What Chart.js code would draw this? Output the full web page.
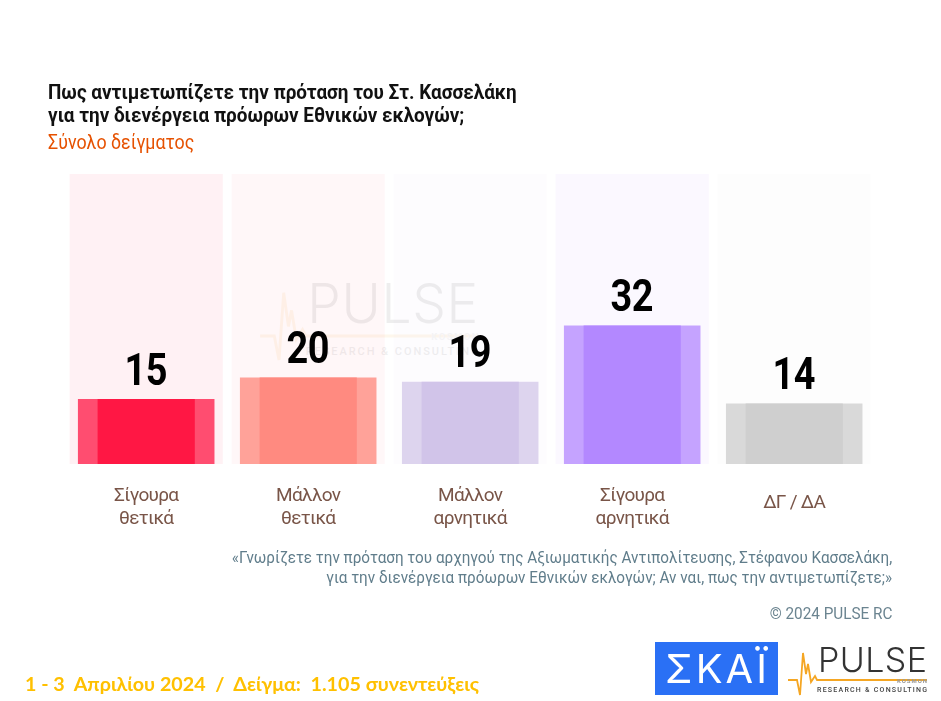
<!DOCTYPE html>
<html lang="el">
<head>
<meta charset="utf-8">
<title>Pulse RC</title>
<script src="https://cdn.jsdelivr.net/npm/chart.js@4"></script>
<style>
  html, body { margin: 0; padding: 0; background: #fff; }
  #page { position: relative; width: 941px; height: 701px; overflow: hidden; }
  #graph1 { position: absolute; left: 0; top: 0; z-index: 1; }
  .txt { position: absolute; z-index: 2; white-space: nowrap; font-family: Roboto, sans-serif; }
  #title { left: 48px; top: 81px; font-size: 21px; line-height: 23px; font-weight: bold; color: #111; transform-origin: 0 0; transform: scaleX(0.9); }
  #subtitle { left: 48px; top: 131px; font-size: 20px; line-height: 23px; color: #e65100; transform-origin: 0 0; transform: scaleX(0.89); }
  #note { right: 49px; top: 547px; text-align: right; font-size: 17px; line-height: 20px; color: #607d8b; transform-origin: 100% 0; transform: scaleX(0.897); }
  #copy { right: 49px; top: 603px; font-size: 17px; line-height: 20px; color: #6b8490; transform-origin: 100% 0; transform: scaleX(0.9); }
  #dates { left: 25px; top: 672px; font-family: Lato, sans-serif; font-size: 19.7px; line-height: 24px; font-weight: bold; color: #ffc000; white-space: pre; }
  svg { position: absolute; left: 0; top: 0; }
</style>
</head>
<body>
<div id="page">
  <svg width="941" height="701" style="z-index:0">
    <defs>
      <g id="pulseLogo">
        <polyline points="788,680 797,680 800,695 803,653 806,674 808,664 811,682 815,676 817,680 927,680" fill="none" stroke="#f5a623" stroke-width="1.8"/>
        <text x="818" y="672" font-family="Inter, sans-serif" font-weight="300" font-size="34" textLength="109" lengthAdjust="spacing" fill="#333">PULSE</text>
        <text x="897" y="682.5" font-family="Roboto, sans-serif" font-weight="bold" font-size="6" textLength="30" fill="#999">KOSMON</text>
        <text x="817" y="692" font-family="Roboto, sans-serif" font-weight="500" font-size="7" textLength="110" fill="#444">RESEARCH &amp; CONSULTING</text>
      </g>
    </defs>
    <use href="#pulseLogo" transform="translate(-977,-752) scale(1.57,1.6)" opacity="0.08"/>
  </svg>
  <canvas id="graph1" width="941" height="701"></canvas>
  <svg width="941" height="701" style="z-index:2">
    <rect x="655" y="642" width="123" height="53" fill="#2a70f5"/>
    <text x="716" y="683" text-anchor="middle" font-family="Inter, sans-serif" font-weight="400" font-size="40" textLength="102" lengthAdjust="spacing" fill="#fff">ΣΚΑΪ</text>
    <use href="#pulseLogo"/>
  </svg>
  <div class="txt" id="title">Πως αντιμετωπίζετε την πρόταση του Στ. Κασσελάκη<br>για την διενέργεια πρόωρων Εθνικών εκλογών;</div>
  <div class="txt" id="subtitle">Σύνολο δείγματος</div>
  <div class="txt" id="note">«Γνωρίζετε την πρόταση του αρχηγού της Αξιωματικής Αντιπολίτευσης, Στέφανου Κασσελάκη,<br>για την διενέργεια πρόωρων Εθνικών εκλογών; Αν ναι, πως την αντιμετωπίζετε;»</div>
  <div class="txt" id="copy">© 2024 PULSE RC</div>
  <div class="txt" id="dates">1 - 3  Απριλίου 2024  /  Δείγμα:  1.105 συνεντεύξεις</div>
</div>

<script>
const categories = [['Σίγουρα', 'θετικά'], ['Μάλλον', 'θετικά'], ['Μάλλον', 'αρνητικά'], ['Σίγουρα', 'αρνητικά'], 'ΔΓ / ΔΑ'];
const values = [15, 20, 19, 32, 14];
const trackValues = [67, 67, 67, 67, 67];

const innerColors = ['#ff1744', '#ff8a80', '#d1c4e9', '#b388ff', '#cfcfcf'];
const outerColors = ['#ff4d70', '#ffa299', '#ddd4ee', '#c5a3ff', '#d9d9d9'];
const trackColors = ['rgba(255,23,68,0.06)', 'rgba(255,100,110,0.05)', 'rgba(209,196,233,0.05)', 'rgba(179,136,255,0.06)', 'rgba(207,207,207,0.05)'];

// numbers above the bars, squeezed because no condensed font is installed
const valueLabels = {
  id: 'valueLabels',
  afterDatasetsDraw(chart) {
    const ctx = chart.ctx;
    const bars = chart.getDatasetMeta(0).data;
    ctx.save();
    ctx.font = 'bold 44px Roboto, sans-serif';
    ctx.fillStyle = '#000';
    ctx.textAlign = 'center';
    ctx.textBaseline = 'alphabetic';
    bars.forEach((bar, i) => {
      ctx.save();
      ctx.translate(bar.x - 0.5, bar.y - 14.5);
      ctx.scale(0.86, 1);
      ctx.fillText(values[i], 0, 0);
      ctx.restore();
    });
    ctx.restore();
  }
};

// tighter tick labels
const tickSpacing = {
  id: 'tickSpacing',
  beforeDraw(chart) {
    chart.ctx.letterSpacing = '-0.7px';
  }
};

const graph1 = new Chart(document.getElementById('graph1').getContext('2d'), {
  type: 'bar',
  data: {
    labels: categories,
    datasets: [
      { data: values, backgroundColor: innerColors, barPercentage: 0.6, order: 1 },
      { data: values, backgroundColor: outerColors, barPercentage: 0.843, order: 2 },
      { data: trackValues, backgroundColor: trackColors, barPercentage: 0.945, order: 3 }
    ]
  },
  options: {
    responsive: false,
    animation: false,
    layout: { padding: { left: 65.2, right: 65.8, top: 174, bottom: 0 } },
    datasets: { bar: { grouped: false, categoryPercentage: 1 } },
    plugins: { legend: { display: false }, tooltip: { enabled: false } },
    scales: {
      x: {
        grid: { display: false },
        border: { display: false },
        afterFit: (scale) => { scale.height = 237; },
        ticks: {
          padding: 13,
          maxRotation: 0,
          autoSkip: false,
          color: '#795548',
          font: (c) => ({
            family: 'Roboto, sans-serif',
            size: 19,
            lineHeight: c.index === 4 ? 1.9 : 1.2
          })
        }
      },
      y: { display: false, min: 0, max: 67 }
    }
  },
  plugins: [tickSpacing, valueLabels]
});
</script>
</body>
</html>
